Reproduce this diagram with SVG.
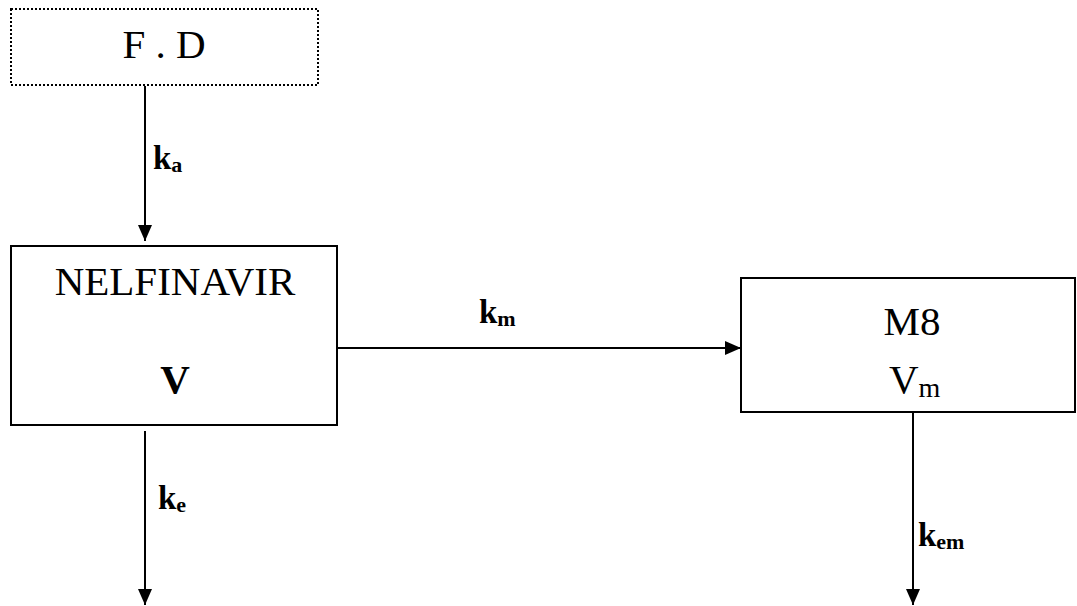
<svg xmlns="http://www.w3.org/2000/svg" width="1077" height="606" viewBox="0 0 1077 606">
<defs>
<style>
.box{fill:#fff;stroke:#000;stroke-width:2}
.dot{fill:#fff;stroke:#000;stroke-width:2;stroke-dasharray:2 2}
.t{font-size:41px;fill:#000}
.lb{font-size:33px;font-weight:bold;fill:#000}
.sub{font-size:22px}
.c{stroke:#000;stroke-width:2;fill:none}
</style>
<marker id="ah" viewBox="0 0 16 14" refX="16" refY="7" markerWidth="16" markerHeight="14" markerUnits="userSpaceOnUse" orient="auto">
<path d="M0,0 L16,7 L0,14 Z" fill="#000"/>
</marker>
</defs>
<rect width="1077" height="606" fill="#fff"/>
<g font-family="Liberation Serif, Times New Roman, serif">
<g id="connectors">
<line class="c" x1="145" y1="86" x2="145" y2="241" marker-end="url(#ah)"/>
<line class="c" x1="338" y1="348" x2="741" y2="348" marker-end="url(#ah)"/>
<line class="c" x1="145" y1="431" x2="145" y2="605" marker-end="url(#ah)"/>
<line class="c" x1="913" y1="413" x2="913" y2="605" marker-end="url(#ah)"/>
<text class="lb" x="153" y="169">k<tspan class="sub" dy="3">a</tspan></text>
<text class="lb" x="479" y="323">k<tspan class="sub" dy="3">m</tspan></text>
<text class="lb" x="158" y="509">k<tspan class="sub" dy="3">e</tspan></text>
<text class="lb" x="918" y="546">k<tspan class="sub" dy="3">em</tspan></text>
</g>
<g id="node-fd">
<rect class="dot" x="11" y="9" width="307" height="76"/>
<text class="t" x="164" y="58" text-anchor="middle">F . D</text>
</g>
<g id="node-nelfinavir">
<rect class="box" x="11" y="246" width="326" height="179"/>
<text class="t" x="175" y="295" text-anchor="middle">NELFINAVIR</text>
<text class="t" x="175" y="393" text-anchor="middle" font-weight="bold">V</text>
</g>
<g id="node-m8">
<rect class="box" x="741" y="278" width="334" height="134"/>
<text class="t" x="912" y="335" text-anchor="middle">M8</text>
<text class="t" x="889" y="393">V<tspan dy="4" font-size="28">m</tspan></text>
</g>
</g>
</svg>
